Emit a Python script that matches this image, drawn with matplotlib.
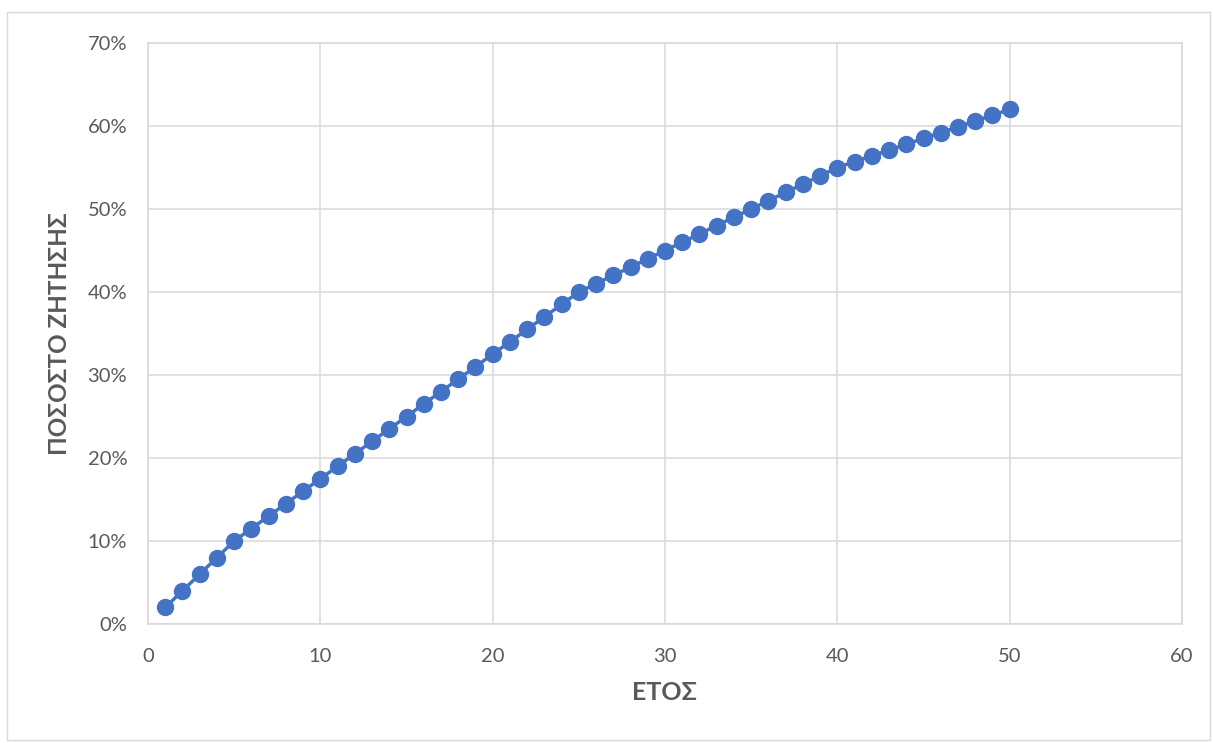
import numpy as np
import matplotlib
matplotlib.use("Agg")
import matplotlib.pyplot as plt
from matplotlib.patches import Rectangle
from matplotlib.ticker import PercentFormatter

plt.rcParams['font.family'] = ['Lato', 'Open Sans', 'DejaVu Sans']

years = list(range(1, 51))
share = [2.0, 4.0, 6.0, 8.0, 10.0, 11.5, 13.0, 14.5, 16.0, 17.5,
         19.0, 20.5, 22.0, 23.5, 25.0, 26.5, 28.0, 29.5, 31.0, 32.5,
         34.0, 35.5, 37.0, 38.5, 40.0, 41.0, 42.0, 43.0, 44.0, 45.0,
         46.0, 47.0, 48.0, 49.0, 50.0, 51.0, 52.0, 53.0, 54.0, 55.0,
         55.7, 56.4, 57.1, 57.8, 58.5, 59.2, 59.9, 60.6, 61.3, 62.0]
x_label = "ΕΤΟΣ"
y_label = "ΠΟΣΟΣΤΟ ΖΗΤΗΣΗΣ"

W, H = 1213, 743
fig = plt.figure(figsize=(W / 100, H / 100), dpi=100)
ax = fig.add_axes([148 / W, 1 - 624 / H, (1182 - 148) / W, (624 - 43) / H])

# outer chart border
fig.patches.append(Rectangle((7 / W, 3 / H), 1203 / W, 728 / H, transform=fig.transFigure,
                             fill=False, edgecolor='#d9d9d9', linewidth=1))

ax.plot(years, share, color='#4472C4', linewidth=2.5, marker='o', markersize=11.5,
        zorder=3)

ax.set_xlim(0, 60)
ax.set_ylim(0, 70)
ax.set_xticks(np.arange(0, 61, 10))
ax.set_yticks(np.arange(0, 71, 10))
ax.yaxis.set_major_formatter(PercentFormatter(decimals=0))
ax.grid(True, color='#d9d9d9', linewidth=1.1)
ax.set_axisbelow(True)
for s in ax.spines.values():
    s.set_color('#d9d9d9')
    s.set_linewidth(1.1)
ax.tick_params(length=0, labelsize=14.5, labelcolor='#595959')
ax.tick_params(axis='y', pad=15)
ax.tick_params(axis='x', pad=17)

ax.set_xlabel(x_label, fontsize=18, fontweight='bold', color='#595959', labelpad=12)
ax.set_ylabel(y_label, fontsize=17.5, fontweight='bold', color='#595959', labelpad=12)

fig.savefig('out.png', dpi=100)
